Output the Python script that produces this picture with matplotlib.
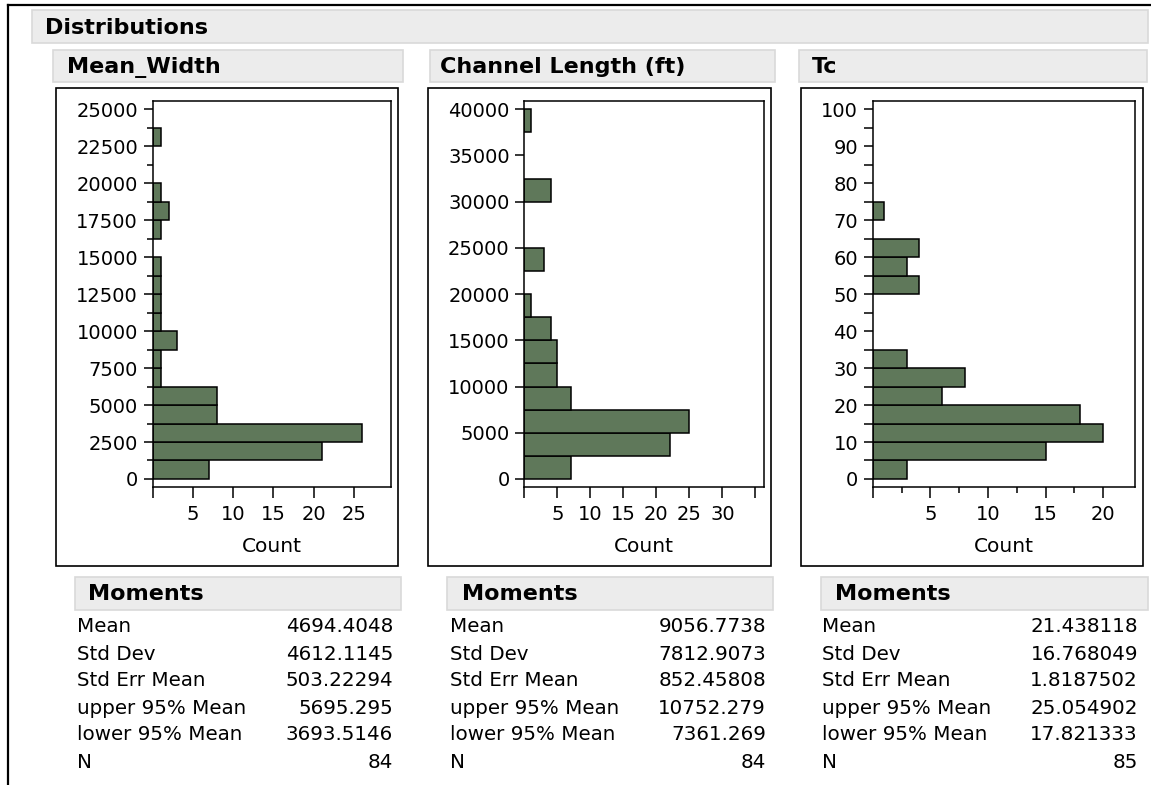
import matplotlib.pyplot as plt
from matplotlib.patches import Rectangle
import numpy as np

# histogram counts, one entry per bin starting at 0
mean_width_bin = 1250
mean_width_counts = [7, 21, 26, 8, 8, 1, 1, 3, 1, 1, 1, 1, 0, 1, 2, 1, 0, 0, 1]
channel_bin = 2500
channel_counts = [7, 22, 25, 7, 5, 5, 4, 1, 0, 3, 0, 0, 4, 0, 0, 1]
tc_bin = 5
tc_counts = [3, 15, 20, 18, 6, 8, 3, 0, 0, 0, 4, 3, 4, 0, 1]

panel_titles = ["Mean_Width", "Channel Length (ft)", "Tc"]
moment_names = ["Mean", "Std Dev", "Std Err Mean", "upper 95% Mean", "lower 95% Mean", "N"]
mean_width_moments = [4694.4048, 4612.1145, 503.22294, 5695.295, 3693.5146, 84]
channel_moments = [9056.7738, 7812.9073, 852.45808, 10752.279, 7361.269, 84]
tc_moments = [21.438118, 16.768049, 1.8187502, 25.054902, 17.821333, 85]

W, H = 1151, 785
BAR = '#5f785a'
HEAD_FILL = '#ececec'
HEAD_EDGE = '#d9d9d9'
plt.rcParams['font.family'] = ['DejaVu Sans']

fig = plt.figure(figsize=(W / 100, H / 100), dpi=100)
fig.patch.set_facecolor('white')

# background layer in pixel coordinates for boxes and text
bg = fig.add_axes([0, 0, 1, 1], zorder=0)
bg.set_xlim(0, W)
bg.set_ylim(H, 0)
bg.axis('off')


def header(x0, y0, x1, y1, text, tx):
    bg.add_patch(Rectangle((x0, y0), x1 - x0, y1 - y0, facecolor=HEAD_FILL,
                           edgecolor=HEAD_EDGE, lw=1.2))
    bg.text(tx, (y0 + y1) / 2 + 1, text, fontsize=16, fontweight='bold',
            ha='left', va='center')


# outer frame (only left and top show)
bg.plot([8, 8], [5, H], color='black', lw=1.6)
bg.plot([8, W], [5, 5], color='black', lw=1.6)

header(32, 10, 1148, 43, "Distributions", 45)

panels = [
    dict(counts=mean_width_counts, bin=mean_width_bin, moments=mean_width_moments,
         head=(53, 403, 67), frame=(55.7, 398), ax=(152.7, 391), xmax=29.6,
         ymax=25000, ystep=2500, yminor=1250, minor_len=4,
         xticks=[0, 5, 10, 15, 20, 25], xlabels=['', '5', '10', '15', '20', '25'], xminor=[],
         mom=(75, 401, 88, 77, 393)),
    dict(counts=channel_counts, bin=channel_bin, moments=channel_moments,
         head=(430, 775, 440), frame=(428, 771), ax=(524.3, 764), xmax=36.3,
         ymax=40000, ystep=5000, yminor=None, minor_len=0,
         xticks=[0, 5, 10, 15, 20, 25, 30, 35],
         xlabels=['', '5', '10', '15', '20', '25', '30', ''], xminor=[],
         mom=(447, 773, 462, 450, 766)),
    dict(counts=tc_counts, bin=tc_bin, moments=tc_moments,
         head=(799, 1147, 812), frame=(801, 1142.7), ax=(872.7, 1135), xmax=22.75,
         ymax=100, ystep=10, yminor=5, minor_len=6.5,
         xticks=[0, 5, 10, 15, 20], xlabels=['', '5', '10', '15', '20'],
         xminor=[2.5, 7.5, 12.5, 17.5],
         mom=(821, 1148, 835, 822, 1138)),
]

ax_top, ax_bot = 100.7, 487.3
for title, p in zip(panel_titles, panels):
    hx0, hx1, htx = p['head']
    header(hx0, 50, hx1, 82, title, htx)

    fx0, fx1 = p['frame']
    bg.add_patch(Rectangle((fx0, 88), fx1 - fx0, 565.5 - 88, facecolor='white',
                           edgecolor='black', lw=1.2))

    l, r = p['ax']
    ax = fig.add_axes([l / W, 1 - ax_bot / H, (r - l) / W, (ax_bot - ax_top) / H], zorder=2)
    counts = np.array(p['counts'])
    starts = np.arange(len(counts)) * p['bin']
    keep = counts > 0
    ax.barh(starts[keep], counts[keep], height=p['bin'], align='edge',
            color=BAR, edgecolor='black', linewidth=1.1)

    ymax = p['ymax']
    ax.set_ylim(-0.0225 * ymax, 1.0232 * ymax)
    ax.set_xlim(0, p['xmax'])
    ax.set_yticks(np.arange(0, ymax + 1, p['ystep']))
    if p['yminor']:
        ax.set_yticks(np.arange(p['yminor'], ymax, p['ystep']), minor=True)
    ax.set_xticks(p['xticks'])
    ax.set_xticklabels(p['xlabels'])
    ax.set_xticks(p['xminor'], minor=True)
    ax.tick_params(axis='y', which='major', length=6.5, width=1.1, pad=4, labelsize=14)
    ax.tick_params(axis='y', which='minor', length=p['minor_len'], width=1.1)
    ax.tick_params(axis='x', which='major', length=8, width=1.1, pad=5, labelsize=14)
    ax.tick_params(axis='x', which='minor', length=4.5, width=1.1)
    for s in ax.spines.values():
        s.set_linewidth(1.1)
    ax.set_xlabel("Count", fontsize=14.5, labelpad=9)

    # Moments table
    mx0, mx1, mtx, lx, vx = p['mom']
    header(mx0, 577, mx1, 610, "Moments", mtx)
    for i, (name, val) in enumerate(zip(moment_names, p['moments'])):
        y = 627 + 27 * i
        bg.text(lx, y, name, fontsize=14.3, ha='left', va='center')
        bg.text(vx, y, f"{val:.8g}", fontsize=14.3, ha='right', va='center')

fig.savefig('out.png', dpi=100)
